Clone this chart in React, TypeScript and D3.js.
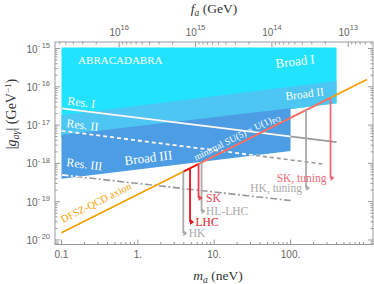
import React from "react";
import * as d3 from "d3";

const W = 374;
const H = 284;

// axion mass in neV, coupling |g| in GeV^-1
const dfszMass = [0.1, 1000];
const dfszG = [1.55e-20, 1.55e-16];

const su5RedMass = [3.94, 6.24];
const su5RedG = [6.1e-19, 9.67e-19];
const su5PinkMass = [6.24, 334];
const su5PinkG = [9.67e-19, 5.18e-17];

const broadIMass = [0.1, 400, 400, 0.1];
const broadIG = [1.07e-15, 1.07e-15, 3.7e-17, 4.7e-18];
const broadIIMass = [0.1, 400, 400, 0.1];
const broadIIG = [1.82e-17, 1.41e-16, 3.7e-17, 4.7e-18];
const broadIIIMass = [0.1, 100, 100, 0.1];
const broadIIIG = [5.5e-18, 2.75e-17, 2.1e-18, 4.0e-19];

const resIMass = [0.1, 400];
const resIG = [2.75e-17, 3.6e-18];
const resIIMass = [0.1, 280];
const resIIG = [7.1e-18, 9.5e-19];
const resIIIMass = [0.1, 100];
const resIIIG = [5.0e-19, 1.07e-19];

const boundNames = ["HK", "LHC", "HL-LHC", "SK", "HK, tuning", "SK, tuning"];
const boundMass = [3.94, 4.83, 6.83, 6.24, 159.6, 334];
const boundTop = [6.1e-19, 7.49e-19, 1.06e-18, 9.67e-19, 2.47e-17, 5.18e-17];
const boundBottom = [1.51e-20, 2.95e-20, 5.6e-20, 1.24e-19, 2.29e-19, 4.13e-19];

const xTickValues = [0.1, 1, 10, 100];
const xTickLabels = ["0.1", "1.", "10.", "100."];
const yTickExps = [-15, -16, -17, -18, -19, -20];
const faTickExps = [16, 15, 14, 13];

// region / line labels, anchored in data coords
const regionLabels = ["ABRACADABRA", "Broad I", "Broad II", "Broad III", "Res. I", "Res. II", "Res. III"];
const regionLabelMass = [0.165, 64.6, 87.1, 0.68, 0.118, 0.115, 0.115];
const regionLabelG = [3.92e-16, 3.08e-16, 4.5e-17, 9.0e-19, 3.43e-17, 8.9e-18, 8.5e-19];

const x = d3.scaleLog().domain([10 ** -1.085, 10 ** 3.08]).range([55, 373]);
const y = d3.scaleLog().domain([10 ** -20.118, 10 ** -14.83]).range([244.5, 42]);

const faToMass = (f: number) => 5.7e15 / f;

const line = d3
  .line<[number, number]>()
  .x((d) => x(d[0]))
  .y((d) => y(d[1]));

const pts = (ms: number[], gs: number[]) => ms.map((m, i) => [m, gs[i]] as [number, number]);
const poly = (ms: number[], gs: number[]) => line(pts(ms, gs)) + "Z";

const serif = "'Liberation Serif', 'DejaVu Serif', serif";
const sans = "'Liberation Sans', Arial, sans-serif";

const boundColor = ["#aaaaaa", "#e3121b", "#aaaaaa", "#ee3f50", "#aaaaaa", "#f06a78"];

export default function App() {
  const [x0, x1] = x.range();
  const [y0, y1] = y.range();

  const slopeAngle =
    (Math.atan2(y(dfszG[1]) - y(dfszG[0]), x(dfszMass[1]) - x(dfszMass[0])) * 180) / Math.PI;
  const regionAngle =
    (Math.atan2(y(broadIIG[1]) - y(broadIIG[0]), x(broadIIMass[1]) - x(broadIIMass[0])) * 180) / Math.PI;

  // minor ticks
  const xMinor: number[] = [];
  for (let e = -2; e <= 3; e++) for (let k = 2; k <= 9; k++) xMinor.push(k * 10 ** e);
  const yMinor: number[] = [];
  for (let e = -21; e <= -15; e++) for (let k = 2; k <= 9; k++) yMinor.push(k * 10 ** e);
  const faMinor: number[] = [];
  for (let e = 12; e <= 16; e++) for (let k = 2; k <= 9; k++) faMinor.push(k * 10 ** e);

  const xd = x.domain();
  const yd = y.domain();
  const inX = (m: number) => m >= xd[0] && m <= xd[1];
  const inY = (g: number) => g >= yd[0] && g <= yd[1];

  const tickColor = "#999";
  const labelColor = "#666";

  const resLines = [
    { d: line(pts(resIMass, resIG)), dash: undefined },
    { d: line(pts(resIIMass, resIIG)), dash: "4 3" },
    { d: line(pts(resIIIMass, resIIIG)), dash: "7 2.5 2 2.5" },
  ];

  const labelSizes = [11, 13, 11.5, 13, 12, 12, 12];
  const labelRot = [0, regionAngle, regionAngle, regionAngle, -regionAngle, -regionAngle, -regionAngle];

  return (
    <svg width={W} height={H} style={{ position: "absolute", left: 0, top: 0, background: "#fff" }}>
      <defs>
        <clipPath id="regions">
          <path d={poly(broadIMass, broadIG)} />
          <path d={poly(broadIIMass, broadIIG)} />
          <path d={poly(broadIIIMass, broadIIIG)} />
        </clipPath>
        <clipPath id="frame">
          <rect x={x0} y={y1} width={x1 - x0} height={y0 - y1} />
        </clipPath>
      </defs>

      <g clipPath="url(#frame)">
        <path d={poly(broadIMass, broadIG)} fill="#21e3fd" />
        <path d={poly(broadIIMass, broadIIG)} fill="#4ec6f3" />
        <path d={poly(broadIIIMass, broadIIIG)} fill="#4c9de4" />

        {resLines.map((r, i) => (
          <path key={"g" + i} d={r.d!} fill="none" stroke="#999" strokeWidth={1.6} strokeDasharray={r.dash} />
        ))}
        <g clipPath="url(#regions)">
          {resLines.map((r, i) => (
            <path key={"w" + i} d={r.d!} fill="none" stroke="#f4f8ff" strokeWidth={1.8} strokeDasharray={r.dash} />
          ))}
        </g>

        <path d={line(pts(dfszMass, dfszG))!} fill="none" stroke="#f5a000" strokeWidth={1.8} />
        <path d={line(pts(su5PinkMass, su5PinkG))!} fill="none" stroke="#f06a78" strokeWidth={1.8} />
        <path d={line(pts(su5RedMass, su5RedG))!} fill="none" stroke="#e8141c" strokeWidth={1.8} />

        {boundNames.map((n, i) => {
          const bx = x(boundMass[i]);
          const by = y(boundBottom[i]);
          const left = i >= 4;
          return (
            <g key={n}>
              <line x1={bx} x2={bx} y1={y(boundTop[i])} y2={by} stroke={boundColor[i]} strokeWidth={1.8} />
              <path d={`M${bx},${by - 3}L${bx + 4},${by}L${bx},${by + 3}Z`} fill={boundColor[i]} />
              <text
                x={left ? bx - 4 : bx + (i === 3 ? 7.5 : i === 2 ? 4.5 : 5.5)}
                y={by + 4}
                textAnchor={left ? "end" : "start"}
                fontFamily={serif}
                fontSize={11.5}
                fill={boundColor[i]}
              >
                {n}
              </text>
            </g>
          );
        })}

        {regionLabels.map((t, i) => (
          <text
            key={t}
            transform={`translate(${x(regionLabelMass[i])},${y(regionLabelG[i])}) rotate(${labelRot[i]})`}
            fontFamily={serif}
            fontSize={labelSizes[i]}
            fill="#fff"
          >
            {t}
          </text>
        ))}

        <text
          transform={`translate(${x(5.78)},${y(1.18e-18)}) rotate(${slopeAngle})`}
          fontFamily={serif}
          fontSize={9.5}
          fill="#fff"
        >
          minimal SU(5) × U(1)<tspan dy={2} fontSize={7}>PQ</tspan>
        </text>
        <text
          transform={`translate(${x(0.105)},${y(2.76e-20)}) rotate(${slopeAngle})`}
          fontFamily={serif}
          fontSize={10.5}
          fill="#f5a000"
        >
          DFSZ-QCD axion
        </text>
      </g>

      {/* frame */}
      <rect x={x0} y={y1} width={x1 - x0} height={y0 - y1} fill="none" stroke={tickColor} strokeWidth={1} />

      {/* bottom + top mass ticks */}
      {xMinor.filter(inX).map((m) => (
        <line key={"xm" + m} x1={x(m)} x2={x(m)} y1={y0} y2={y0 - 2.5} stroke={tickColor} />
      ))}
      {xTickValues.map((m, i) => (
        <g key={"xt" + m}>
          <line x1={x(m)} x2={x(m)} y1={y0} y2={y0 - 5} stroke={tickColor} />
          <text x={x(m)} y={258} textAnchor="middle" fontFamily={sans} fontSize={10} fill={labelColor}>
            {xTickLabels[i]}
          </text>
        </g>
      ))}
      {faMinor.filter((f) => inX(faToMass(f))).map((f) => (
        <line key={"fm" + f} x1={x(faToMass(f))} x2={x(faToMass(f))} y1={y1} y2={y1 + 2.5} stroke={tickColor} />
      ))}
      {faTickExps.map((e) => {
        const fx = x(faToMass(10 ** e));
        return (
          <g key={"ft" + e}>
            <line x1={fx} x2={fx} y1={y1} y2={y1 + 5} stroke={tickColor} />
            <text x={fx} y={35.5} textAnchor="middle" fontFamily={sans} fontSize={10} fill={labelColor}>
              10<tspan dy={-5.5} fontSize={7.5}>{e}</tspan>
            </text>
          </g>
        );
      })}

      {/* left + right coupling ticks */}
      {yMinor.filter(inY).map((g) => (
        <g key={"ym" + g}>
          <line x1={x0} x2={x0 + 2.5} y1={y(g)} y2={y(g)} stroke={tickColor} />
          <line x1={x1} x2={x1 - 2.5} y1={y(g)} y2={y(g)} stroke={tickColor} />
        </g>
      ))}
      {yTickExps.map((e) => {
        const gy = y(10 ** e);
        return (
          <g key={"yt" + e}>
            <line x1={x0} x2={x0 + 5} y1={gy} y2={gy} stroke={tickColor} />
            <line x1={x1} x2={x1 - 5} y1={gy} y2={gy} stroke={tickColor} />
            <text x={50} y={gy + 4} textAnchor="end" fontFamily={sans} fontSize={10} fill={labelColor}>
              10<tspan dy={-4.5} fontSize={7.5}>{"-\u2009" + -e}</tspan>
            </text>
          </g>
        );
      })}

      {/* axis titles */}
      <text x={214} y={13} textAnchor="middle" fontFamily={serif} fontSize={13.5} fill="#333">
        <tspan fontStyle="italic">f</tspan>
        <tspan dy={2.5} fontSize={9.5} fontStyle="italic">a</tspan>
        <tspan dy={-2.5}> (GeV)</tspan>
      </text>
      <text x={218} y={280} textAnchor="middle" fontFamily={serif} fontSize={13.5} fill="#333">
        <tspan fontStyle="italic">m</tspan>
        <tspan dy={2.5} fontSize={9.5} fontStyle="italic">a</tspan>
        <tspan dy={-2.5}> (neV)</tspan>
      </text>
      <text transform="translate(16,114) rotate(-90)" textAnchor="middle" fontFamily={serif} fontSize={14} fill="#333">
        |<tspan fontStyle="italic">g</tspan>
        <tspan dy={2.5} fontSize={10} fontStyle="italic">aγ</tspan>
        <tspan dy={-2.5}>| (GeV</tspan>
        <tspan dy={-5} fontSize={9}>−1</tspan>
        <tspan dy={5}>)</tspan>
      </text>
    </svg>
  );
}
